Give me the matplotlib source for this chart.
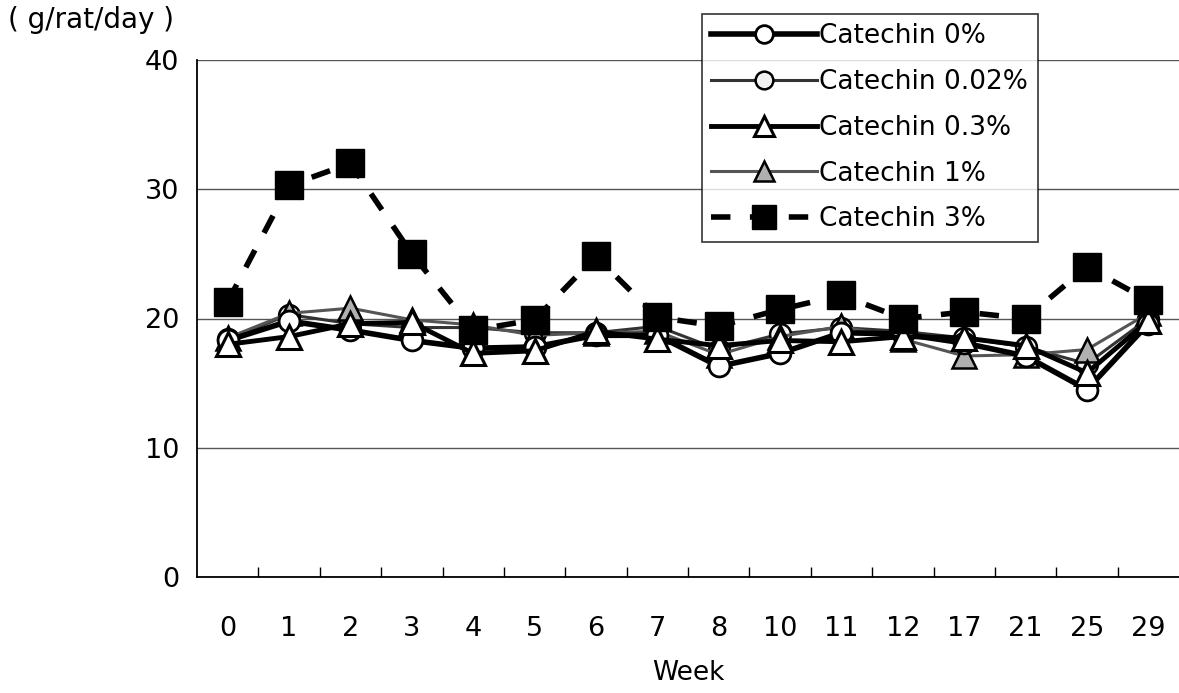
import matplotlib
matplotlib.use("Agg")
import matplotlib.pyplot as plt
import numpy as np

weeks = ['0', '1', '2', '3', '4', '5', '6', '7', '8', '10', '11', '12', '17', '21', '25', '29']
cat_0 = [18.3, 19.8, 19.1, 18.3, 17.7, 17.8, 18.7, 18.7, 16.3, 17.3, 18.9, 18.8, 18.1, 17.1, 14.5, 19.6]
cat_002 = [18.4, 20.3, 19.6, 19.3, 19.3, 18.9, 18.9, 19.4, 17.6, 18.8, 19.3, 19.0, 18.5, 17.8, 16.5, 20.0]
cat_03 = [18.0, 18.6, 19.6, 19.7, 17.3, 17.5, 19.0, 18.4, 17.9, 18.3, 18.2, 18.6, 18.5, 17.9, 15.8, 19.8]
cat_1 = [18.5, 20.4, 20.8, 19.9, 19.5, 18.7, 18.9, 19.0, 17.2, 18.6, 19.4, 18.4, 17.1, 17.2, 17.6, 20.4]
cat_3 = [21.3, 30.3, 32.0, 25.0, 19.1, 19.9, 24.8, 20.1, 19.4, 20.7, 21.8, 20.0, 20.5, 20.0, 24.0, 21.4]
labels = ['Catechin 0%', 'Catechin 0.02%', 'Catechin 0.3%', 'Catechin 1%', 'Catechin 3%']
yticks = [0, 10, 20, 30, 40]

plt.rcParams['font.family'] = ['DejaVu Sans']
fig = plt.figure(figsize=(11.79, 6.93), dpi=100)
ax = fig.add_axes([197/1179, 1-577/693, 1-197/1179, (577-60)/693])
x = np.arange(len(weeks))

ax.plot(x, cat_0, color='black', lw=4, marker='o', ms=15, mfc='white', mec='black', mew=2, label=labels[0], zorder=4)
ax.plot(x, cat_002, color='#333333', lw=2.2, marker='o', ms=15, mfc='#f2f2f2', mec='black', mew=1.8, label=labels[1], zorder=3)
ax.plot(x, cat_03, color='black', lw=3.5, marker='^', ms=17, mfc='white', mec='black', mew=2.2, label=labels[2], zorder=5)
ax.plot(x, cat_1, color='#555555', lw=2.2, marker='^', ms=17, mfc='#b0b0b0', mec='black', mew=1.8, label=labels[3], zorder=3)
ax.plot(x, cat_3, color='black', lw=4, ls=(0, (3.5, 3.5)), marker='s', ms=20, mfc='black', mec='black', label=labels[4], zorder=6)

ax.set_xlim(-0.5, len(weeks) - 0.5)
ax.set_ylim(0, 40)
ax.set_yticks(yticks)
ax.yaxis.grid(True, color='#555555', lw=1)
ax.set_axisbelow(True)
ax.set_xticks(x)
ax.set_xticklabels(weeks)
ax.set_xticks(np.arange(len(weeks) - 1) + 0.5, minor=True)
ax.tick_params(axis='x', which='major', length=0, pad=28, labelsize=19.5)
ax.tick_params(axis='x', which='minor', direction='in', length=7, width=1)
ax.tick_params(axis='y', length=0, pad=13, labelsize=19.5)
for s in ['top', 'right']:
    ax.spines[s].set_visible(False)
ax.spines['left'].set_linewidth(1.3)
ax.spines['bottom'].set_linewidth(1.3)
ax.set_xlabel('Week', fontsize=19, labelpad=13)

fig.text(8/1179, 1-20/693, '( g/rat/day )', fontsize=20, va='center', ha='left')

leg = ax.legend(loc='upper left', bbox_to_anchor=(702/1179, 1-14/693), bbox_transform=fig.transFigure,
                fontsize=19, frameon=True, fancybox=False, edgecolor='black', handlelength=4.0,
                handletextpad=0.1, labelspacing=0.75, borderpad=0.35, borderaxespad=0, markerscale=0.85)
leg.get_frame().set_linewidth(1.2)
leg.set_zorder(10)

fig.savefig('out.png', dpi=100, facecolor='white')
